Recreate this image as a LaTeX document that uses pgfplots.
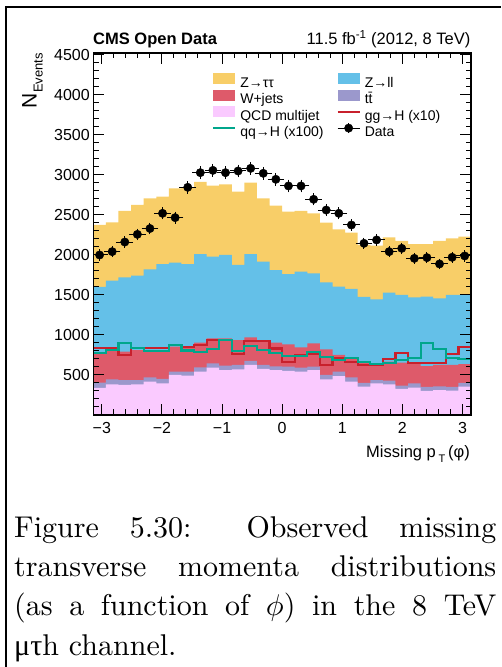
\documentclass[border=0pt]{standalone}
\usepackage{pgfplots}
\pgfplotsset{compat=1.18}
\usepackage{pgfplotstable}
\usepackage{graphicx}
\usepackage{fontspec}
\newfontfamily\arial{Liberation Sans}
\newfontfamily\grk{Liberation Serif}
\definecolor{cZTT}{RGB}{248,206,104}
\definecolor{cZLL}{RGB}{100,192,232}
\definecolor{cW}{RGB}{222,90,106}
\definecolor{cTT}{RGB}{155,152,204}
\definecolor{cQCD}{RGB}{250,202,255}
\definecolor{cggH}{RGB}{200,32,44}
\definecolor{cqqH}{RGB}{0,166,140}

% cumulative stack tops per bin (lower bin edge)
\pgfplotstableread{
lo qcd tt w zll ztt ggh qqh
-3.1416 340 405 760 1600 2375 833 779
-2.9322 383 446 812 1679 2408 833 812
-2.7227 375 437 792 1721 2550 750 904
-2.5133 383 437 812 1742 2625 833 833
-2.3038 417 471 792 1821 2708 833 800
-2.0944 396 450 792 1885 2729 833 800
-1.8850 500 542 854 1904 2833 875 875
-1.6755 492 542 847 1887 2842 854 806
-1.4661 542 596 904 2012 2913 875 787
-1.2566 592 646 958 1979 2867 937 820
-1.0472 562 617 958 2000 2883 937 937
-0.8378 571 625 937 1875 2792 758 800
-0.6283 625 675 971 2012 2904 929 864
-0.4189 575 625 929 1917 2708 929 812
-0.2094 562 608 904 1812 2617 830 779
0.0000 550 604 883 1762 2542 667 737
0.2094 542 592 846 1792 2550 750 737
0.4189 562 604 896 1771 2521 762 783
0.6283 446 500 821 1658 2404 625 729
0.8378 487 542 750 1604 2321 708 687
1.0472 417 471 708 1575 2279 667 717
1.2566 354 400 667 1475 2125 625 667
1.4661 396 437 612 1446 2117 625 637
1.6755 383 429 667 1529 2221 700 654
1.8850 325 367 654 1500 2175 779 687
2.0944 342 396 646 1471 2137 650 708
2.3038 300 350 612 1479 2137 650 896
2.5133 312 358 625 1458 2175 650 821
2.7227 304 350 625 1500 2208 758 717
2.9322 354 400 637 1500 2229 854 700
3.1416 354 400 637 1500 2229 854 700
}\hist

\pgfplotstableread{
c d ex ey
-3.0369 2000 0.1047 45
-2.8274 2042 0.1047 45
-2.6180 2162 0.1047 47
-2.4086 2258 0.1047 48
-2.1991 2331 0.1047 48
-1.9897 2521 0.1047 50
-1.7802 2467 0.1047 50
-1.5708 2846 0.1047 53
-1.3614 3029 0.1047 55
-1.1519 3058 0.1047 55
-0.9425 3029 0.1047 55
-0.7330 3050 0.1047 55
-0.5236 3083 0.1047 56
-0.3142 3021 0.1047 55
-0.1047 2946 0.1047 54
0.1047 2863 0.1047 54
0.3142 2863 0.1047 54
0.5236 2696 0.1047 52
0.7330 2562 0.1047 51
0.9425 2521 0.1047 50
1.1519 2375 0.1047 49
1.3614 2146 0.1047 46
1.5708 2188 0.1047 47
1.7802 2042 0.1047 45
1.9897 2083 0.1047 46
2.1991 1958 0.1047 44
2.4086 1967 0.1047 44
2.6180 1888 0.1047 43
2.8274 1971 0.1047 44
3.0369 1988 0.1047 45
}\data

\newcommand{\legbox}{\path[draw=none, fill=none] (0pt,-0.5pt) rectangle (22pt,10.5pt);}

\begin{document}
\begin{tikzpicture}
\path[use as bounding box] (0pt,0pt) rectangle (501pt,667pt);
\draw[line width=1.3pt] (6pt,0pt) -- (6pt,660pt) -- (501pt,660pt);
\begin{axis}[
  at={(93.3pt,252pt)}, anchor=south west,
  scale only axis, width=377.7pt, height=362pt,
  xmin=-3.14159, xmax=3.14159, ymin=0, ymax=4525,
  axis on top,
  axis line style={line width=1.1pt, black},
  tick style={line width=1pt, black},
  tick align=inside, xtick pos=both, ytick pos=both,
  major tick length=11pt, minor tick length=5.5pt,
  xtick={-3,-2,-1,0,1,2,3},
  xticklabels={−3,−2,−1,0,1,2,3},
  minor xtick={-2.8,-2.6,-2.4,-2.2,-1.8,-1.6,-1.4,-1.2,-0.8,-0.6,-0.4,-0.2,0.2,0.4,0.6,0.8,1.2,1.4,1.6,1.8,2.2,2.4,2.6,2.8},
  ytick={500,1000,1500,2000,2500,3000,3500,4000,4500},
  yticklabels={500,1000,1500,2000,2500,3000,3500,4000,4500},
  minor ytick={100,200,300,400,600,700,800,900,1100,1200,1300,1400,1600,1700,1800,1900,2100,2200,2300,2400,2600,2700,2800,2900,3100,3200,3300,3400,3600,3700,3800,3900,4100,4200,4300,4400},
  ticklabel style={font=\arial\fontsize{16}{16}\selectfont},
  xticklabel style={anchor=north, inner sep=0pt, yshift=-7pt},
  yticklabel style={anchor=east, inner sep=0pt, xshift=-3.3pt},
  legend columns=2, legend cell align=left,
  legend style={at={(0.314,0.945)}, anchor=north west, draw=none, fill=none,
    font=\arial\fontsize{14}{16}\selectfont, inner sep=0pt, row sep=-0.5pt,
    nodes={inner sep=0pt, text height=10pt, text depth=3pt},
    /tikz/every even column/.append style={column sep=13pt},
    /tikz/every odd column/.append style={column sep=4pt}},
]
\addplot[fill=cZTT, draw=none, const plot,
  legend image code/.code={\legbox\fill[cZTT] (0pt,-0.5pt) rectangle (22pt,10.5pt);}]
  table[x=lo, y=ztt]{\hist} \closedcycle;
\addlegendentry{Z→ττ}
\addplot[fill=cZLL, draw=none, const plot,
  legend image code/.code={\legbox\fill[cZLL] (0pt,-0.5pt) rectangle (22pt,10.5pt);}]
  table[x=lo, y=zll]{\hist} \closedcycle;
\addlegendentry{Z→ll}
\addplot[fill=cW, draw=none, const plot,
  legend image code/.code={\legbox\fill[cW] (0pt,-0.5pt) rectangle (22pt,10.5pt);}]
  table[x=lo, y=w]{\hist} \closedcycle;
\addlegendentry{W+jets}
\addplot[fill=cTT, draw=none, const plot,
  legend image code/.code={\legbox\fill[cTT] (0pt,-0.5pt) rectangle (22pt,10.5pt);}]
  table[x=lo, y=tt]{\hist} \closedcycle;
\addlegendentry{t\=t}
\addplot[fill=cQCD, draw=none, const plot,
  legend image code/.code={\legbox\fill[cQCD] (0pt,-0.5pt) rectangle (22pt,10.5pt);}]
  table[x=lo, y=qcd]{\hist} \closedcycle;
\addlegendentry{QCD multijet}
\addplot[cggH, line width=2.2pt, const plot, no marks,
  legend image code/.code={\legbox\draw[cggH, line width=2.2pt] (0pt,5pt) -- (22pt,5pt);}]
  table[x=lo, y=ggh]{\hist};
\addlegendentry{gg→H (x10)}
\addplot[cqqH, line width=2.2pt, const plot, no marks,
  legend image code/.code={\legbox\draw[cqqH, line width=2.2pt] (0pt,5pt) -- (22pt,5pt);}]
  table[x=lo, y=qqh]{\hist};
\addlegendentry{qq→H (x100)}
\addplot[black, only marks, mark=*, mark size=4.2pt,
  legend image code/.code={\legbox
    \draw[black, line width=1pt] (0pt,5pt) -- (22pt,5pt);
    \draw[black, line width=1pt] (11pt,0pt) -- (11pt,10pt);
    \fill[black] (11pt,5pt) circle (4.2pt);},
  error bars/.cd, x dir=both, x explicit, y dir=both, y explicit,
  error bar style={line width=1pt, black},
  error mark options={mark size=2pt, line width=1pt, black}]
  table[x=c, y=d, x error=ex, y error=ey]{\data};
\addlegendentry{Data}
\end{axis}
% titles
\node[anchor=base west, inner sep=0pt, font=\arial\bfseries\fontsize{16.5}{16.5}\selectfont] at (93pt,622pt) {CMS Open Data};
\node[anchor=base east, inner sep=0pt, font=\arial\fontsize{16.5}{16.5}\selectfont] at (470.5pt,622pt) {11.5 fb\textsuperscript{-1} (2012, 8 TeV)};
% axis titles
\node[anchor=base east, inner sep=0pt, font=\arial\fontsize{16.5}{16.5}\selectfont] at (470pt,209pt) {Missing p\,\raisebox{-5pt}{\fontsize{11}{11}\selectfont T}\,(φ)};
\node[rotate=90, anchor=base east, inner sep=0pt, font=\arial] at (36.7pt,614pt) {\fontsize{21}{21}\selectfont N\raisebox{-6pt}{\fontsize{13}{13}\selectfont Events}};
% caption
\begin{scope}[every node/.style={anchor=base west, inner sep=0pt}]
\node at (14pt,129pt) {\scalebox{3}{\fontsize{10}{12}\selectfont\makebox[160.7pt][s]{Figure 5.30: Observed missing}}};
\node at (14pt,90pt) {\scalebox{3}{\fontsize{10}{12}\selectfont\makebox[160.7pt][s]{transverse momenta distributions}}};
\node at (14pt,51pt) {\scalebox{3}{\fontsize{10}{12}\selectfont\makebox[160.7pt][s]{(as a function of $\phi$) in the 8 TeV}}};
\node at (14pt,12pt) {\scalebox{3}{\fontsize{10}{12}\selectfont{\grk μτ}h channel.}};
\end{scope}
\end{tikzpicture}
\end{document}
